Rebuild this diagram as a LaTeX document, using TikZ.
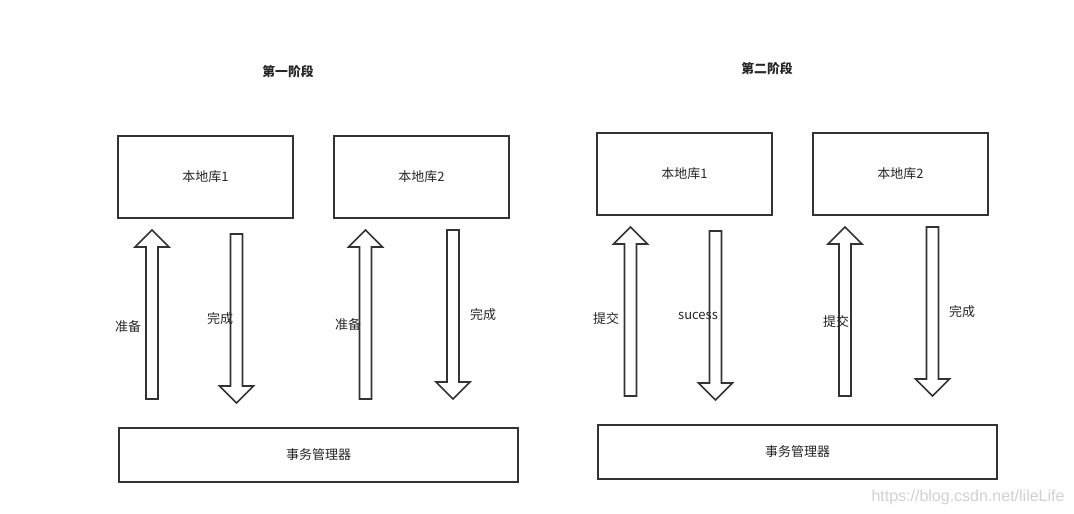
\documentclass[tikz,border=0pt]{standalone}
\usepackage{fontspec}
\setmainfont{Noto Sans CJK SC}
\newfontfamily\wmfont{Liberation Sans}
\begin{document}
\begin{tikzpicture}[x=1pt,y=-1pt,
  box/.style={draw=black!80,line width=1.7pt,inner sep=0pt},
  arr/.style={draw=black!80,line width=1.6pt,fill=white,line join=miter},
  lbl/.style={font=\fontsize{13pt}{15pt}\selectfont,text=black!85,inner sep=0pt},
  ttl/.style={font=\fontsize{12.8pt}{15pt}\selectfont\bfseries,text=black!85,inner sep=0pt}]
\newcommand\blockup[3]{\draw[arr] ({#1-6},#3) -- ({#1-6},{#2+17}) -- ({#1-17},{#2+17}) -- (#1,#2) -- ({#1+17},{#2+17}) -- ({#1+6},{#2+17}) -- ({#1+6},#3) -- cycle;}
\newcommand\blockdown[3]{\draw[arr] ({#1-6},#2) -- ({#1-6},{#3-17}) -- ({#1-17},{#3-17}) -- (#1,#3) -- ({#1+17},{#3-17}) -- ({#1+6},{#3-17}) -- ({#1+6},#2) -- cycle;}
\useasboundingbox (0,0) rectangle (1074,514);
\fill[white] (0,0) rectangle (1074,514);
% phase 1
\node[ttl] (t1) at (288,72) {第一阶段};
\draw[box] (118,136) rectangle (293,218);
\node[lbl] (a1) at (205.5,177) {本地库1};
\draw[box] (334,136) rectangle (509,218);
\node[lbl] (a2) at (421.5,177) {本地库2};
\draw[box] (119,428) rectangle (518,482);
\node[lbl] (m1) at (318.5,455) {事务管理器};
\blockup{152}{230}{399}
\blockdown{236.5}{234}{403}
\blockup{365.5}{230}{399}
\blockdown{453}{230}{399}
\node[lbl] (l1) at (128,327) {准备};
\node[lbl] (l2) at (220,319) {完成};
\node[lbl] (l3) at (348,325) {准备};
\node[lbl] (l4) at (483,315) {完成};
% phase 2
\node[ttl] (t2) at (767,69) {第二阶段};
\draw[box] (597,133) rectangle (772,215);
\node[lbl] (b1) at (684.5,174) {本地库1};
\draw[box] (813,133) rectangle (988,215);
\node[lbl] (b2) at (900.5,174) {本地库2};
\draw[box] (598,425) rectangle (997,479);
\node[lbl] (m2) at (797.5,452) {事务管理器};
\blockup{630.5}{227}{396}
\blockdown{715.5}{231}{400}
\blockup{845}{227}{396}
\blockdown{932.5}{227}{396}
\node[lbl] (k1) at (606,319) {提交};
\node[lbl] (k2) at (698,316) {sucess};
\node[lbl] (k3) at (836,322) {提交};
\node[lbl] (k4) at (962,312) {完成};
\node[font=\wmfont\fontsize{16pt}{18pt}\selectfont,text=black!18,inner sep=0pt] (wm) at (968,497) {https://blog.csdn.net/lileLife};
\end{tikzpicture}
\end{document}
